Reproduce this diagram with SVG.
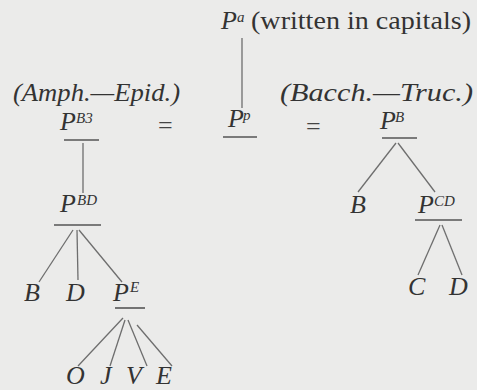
<svg xmlns="http://www.w3.org/2000/svg" width="477" height="390" viewBox="0 0 477 390">
<style>
  text{font-family:'Liberation Serif','Times New Roman',serif;fill:#333}
  .t{font-style:italic;font-size:26px}
  .r{font-size:26px}
  .s{font-style:italic;font-size:15px}
  .eq{font-size:26px;fill:#444}
  .c line{stroke:#6e6e6e;stroke-width:1.3;fill:none}
  .u{stroke:#555;stroke-width:1.6}
</style>
<rect width="477" height="390" fill="#ebebea"/>
<g id="connectors" class="c">
  <line x1="242" y1="38" x2="242" y2="108"/>
  <line x1="83" y1="143" x2="83" y2="193"/>
  <line x1="73" y1="230" x2="39" y2="282"/>
  <line x1="77" y1="230" x2="78" y2="280"/>
  <line x1="79" y1="230" x2="122" y2="282"/>
  <line x1="123" y1="318" x2="78" y2="366"/>
  <line x1="125" y1="320" x2="110" y2="366"/>
  <line x1="128" y1="320" x2="147" y2="366"/>
  <line x1="137" y1="325" x2="172" y2="366"/>
  <line x1="396" y1="143" x2="358" y2="192"/>
  <line x1="398" y1="143" x2="435" y2="192"/>
  <line x1="440" y1="225" x2="418" y2="275"/>
  <line x1="442" y1="225" x2="462" y2="275"/>
</g>
<g id="n-Pa">
  <text class="t" x="221" y="29">P</text>
  <text class="s" x="237" y="22">a</text>
  <text class="r" x="251" y="29" textLength="220" lengthAdjust="spacingAndGlyphs">(written in capitals)</text>
</g>
<g id="label-amph">
  <text class="t" x="13" y="101" textLength="167" lengthAdjust="spacingAndGlyphs">(Amph.—Epid.)</text>
</g>
<g id="label-bacch">
  <text class="t" x="280" y="101" textLength="193" lengthAdjust="spacingAndGlyphs">(Bacch.—Truc.)</text>
</g>
<g id="n-PB3">
  <text class="t" x="60" y="130">P</text>
  <text class="s" x="76" y="123">B3</text>
  <line class="u" x1="64" y1="140" x2="99" y2="140"/>
</g>
<g id="eq1"><text class="eq" x="158" y="134">=</text></g>
<g id="n-Pp">
  <text class="t" x="228" y="127">P</text>
  <text class="s" x="243" y="120">p</text>
  <line class="u" x1="223" y1="137" x2="257" y2="137"/>
</g>
<g id="eq2"><text class="eq" x="306" y="135">=</text></g>
<g id="n-PB">
  <text class="t" x="380" y="129">P</text>
  <text class="s" x="395" y="122">B</text>
  <line class="u" x1="382" y1="138" x2="417" y2="138"/>
</g>
<g id="n-PBD">
  <text class="t" x="60" y="212">P</text>
  <text class="s" x="77" y="205">BD</text>
  <line class="u" x1="54" y1="225" x2="101" y2="225"/>
</g>
<g id="n-B1"><text class="t" x="24" y="301">B</text></g>
<g id="n-D1"><text class="t" x="66" y="301">D</text></g>
<g id="n-PE">
  <text class="t" x="113" y="301">P</text>
  <text class="s" x="130" y="292">E</text>
  <line class="u" x1="115" y1="308" x2="145" y2="308"/>
</g>
<g id="n-O"><text class="t" x="66" y="384">O</text></g>
<g id="n-J"><text class="t" x="100" y="384">J</text></g>
<g id="n-V"><text class="t" x="126" y="384">V</text></g>
<g id="n-E"><text class="t" x="156" y="384">E</text></g>
<g id="n-B2"><text class="t" x="350" y="213">B</text></g>
<g id="n-PCD">
  <text class="t" x="418" y="213">P</text>
  <text class="s" x="434" y="206">CD</text>
  <line class="u" x1="415" y1="220" x2="462" y2="220"/>
</g>
<g id="n-C"><text class="t" x="408" y="295">C</text></g>
<g id="n-D2"><text class="t" x="449" y="295">D</text></g>
</svg>
